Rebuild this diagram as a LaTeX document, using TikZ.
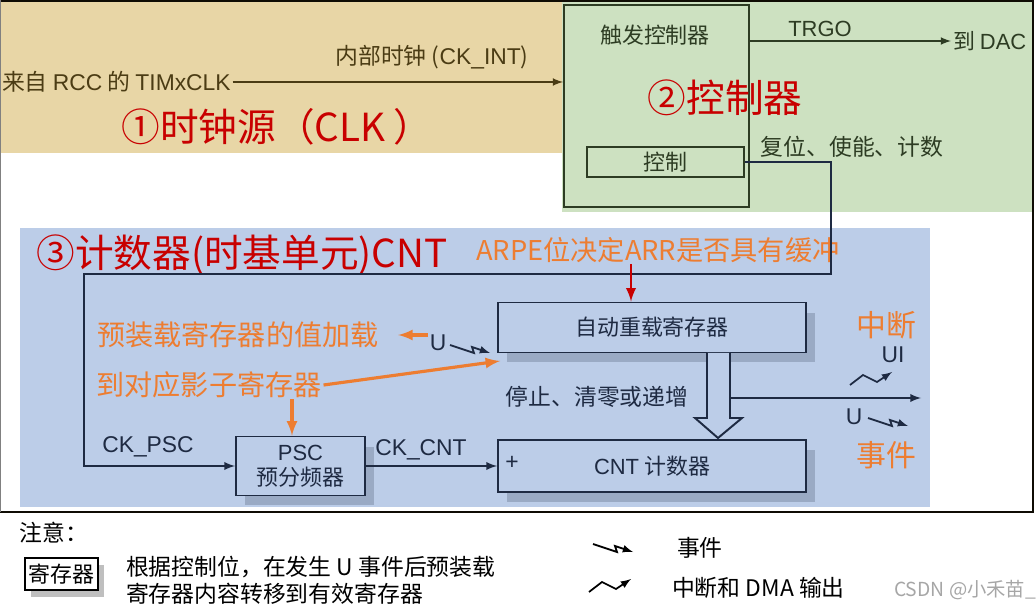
\documentclass[tikz,border=0pt]{standalone}
\usepackage{fontspec}
\setmainfont{Noto Sans CJK SC}
\newfontfamily\arial{Liberation Sans}
\usetikzlibrary{arrows,shadows}

\definecolor{tanbg}{RGB}{232,214,166}
\definecolor{greenbg}{RGB}{205,225,193}
\definecolor{bluebg}{RGB}{188,205,232}
\definecolor{shade}{RGB}{154,170,196}
\definecolor{navy}{RGB}{30,42,66}
\definecolor{olive}{RGB}{75,60,20}
\definecolor{forest}{RGB}{45,60,35}
\definecolor{headred}{RGB}{200,0,0}
\definecolor{noteorange}{RGB}{237,125,49}

\tikzset{
  txtan/.style={text=olive,inner sep=1pt,font=\fontsize{13}{15}\selectfont},
  txgreen/.style={text=forest,inner sep=1pt,font=\fontsize{12.5}{14}\selectfont},
  txblue/.style={text=navy,inner sep=1pt,font=\fontsize{12.5}{14}\selectfont},
  latinblue/.style={text=navy,inner sep=1pt,font=\arial\fontsize{13}{14}\selectfont},
  headline/.style={text=headred,inner sep=1pt,font=\fontsize{22}{24}\selectfont},
  orangenote/.style={text=noteorange,inner sep=1pt,font=\fontsize{16}{18}\selectfont},
  legendtxt/.style={text=black,inner sep=1pt,font=\fontsize{13}{15.5}\selectfont},
  reg/.style={draw=navy,line width=1.1pt,fill=bluebg,inner sep=0pt,
    drop shadow={fill=shade,opacity=1,shadow xshift=0.18cm,shadow yshift=-0.2cm}},
  orarrow/.style={-latex,noteorange,line width=1.8pt},
  evtpic/.pic={\draw[-latex,line width=1pt] (0,0) -- (24,8) -- (22,2) -- (40,8);},
  intpic/.pic={\draw[-latex,line width=1pt] (0,0) -- (13,-10) -- (27,-3) -- (42,-13);}
}

\begin{document}
\begin{tikzpicture}[x=0.02cm,y=-0.02cm]
  \useasboundingbox (0,0) rectangle (1036,608);

  % backgrounds
  \fill[tanbg] (0,0) rectangle (562,153);
  \fill[greenbg] (562,0) rectangle (1033,212);
  \fill[bluebg] (20,228) rectangle (930,507);
  \draw[line width=1.2pt,black!80!olive] (0,1) -- (1033,1) -- (1033,512) -- (0,512);
  \draw[gray,line width=0.8pt] (0.5,0) -- (0.5,512);

  % controller
  \node[draw=forest,line width=1.1pt,minimum width=3.7cm,minimum height=4.04cm,inner sep=0pt] (trig) at (656.5,106) {};
  \node[txgreen] (trigname) at (655,35) {触发控制器};
  \node[txgreen,draw=forest,line width=1.1pt,minimum width=3.14cm,minimum height=0.6cm,inner sep=0pt] (ctl) at (665.5,162) {控制};
  \node[txgreen,font=\arial\fontsize{12.5}{14}\selectfont] (trgo) at (820,29) {TRGO};
  \node[txgreen,anchor=west] (dac) at (951,41) {到 {\arial DAC}};
  \draw[-latex,forest,line width=1pt] (trig.east |- dac.west) -- (dac.west);
  \node[headline] (head2) at (725,98) {②控制器};
  \node[txgreen,font=\fontsize{13}{14}\selectfont] (rst) at (852,147) {复位、使能、计数};

  % clock source
  \node[txtan,anchor=west] (rcc) at (0,82) {来自 {\arial RCC} 的 {\arial TIMxCLK}};
  \draw[-latex,olive,line width=1pt] (rcc.east) -- (rcc.east -| trig.west);
  \node[txtan] (ckint) at (432,57) {内部时钟 ({\arial CK\_INT})};
  \node[headline] (head1) at (277,127) {①时钟源（CLK ）};

  % time base unit
  \node[headline] (head3) at (242,255) {③计数器(时基单元)CNT};
  \node[orangenote,font=\fontsize{15.5}{18}\selectfont] (arpe) at (658,250) {ARPE位决定ARR是否具有缓冲};
  \node[reg,txblue,minimum width=6.16cm,minimum height=1cm] (arr) at (652,327.5) {自动重载寄存器};
  \node[reg,txblue,minimum width=2.58cm,minimum height=1.18cm,align=center] (psc) at (300.5,466) {{\arial PSC}\\预分频器};
  \node[reg,txblue,minimum width=6.16cm,minimum height=1.04cm] (cnt) at (652,466) {{\arial CNT} 计数器};
  \node[latinblue] (plus) at (512,463) {+};

  \coordinate (ctlturn) at (831,274);
  \coordinate (leftturn) at (84,274);
  \draw[-latex,navy,line width=1.1pt] (ctl.east) -| (ctlturn) -- (leftturn) |- (psc.west);
  \node[latinblue] (ckpsc) at (148,447) {CK\_PSC};
  \draw[-latex,navy,line width=1.1pt] (psc.east) -- (cnt.west);
  \node[latinblue] (ckcnt) at (421,450) {CK\_CNT};

  \coordinate (arpetail) at (631,264);
  \draw[-latex,headred,line width=1.6pt] (arpetail) -- (arpetail |- arr.north);

  % preload notes
  \node[orangenote] (preload) at (238,335) {预装载寄存器的值加载};
  \node[orangenote] (shadowreg) at (209,385) {到对应影子寄存器};
  \node[latinblue] (u1) at (438,343) {U};
  \draw[orarrow,shorten >=10pt] (u1.west |- preload.east) -- (preload.east);
  \pic[navy] at (450,345) {evtpic};
  \coordinate (arrin) at (500,361);
  \draw[orarrow] (shadowreg.east) -- (arrin);
  \coordinate (pscin) at (292,399);
  \draw[orarrow] (pscin) -- (pscin |- psc.north);

  % update path
  \draw[navy,line width=1.1pt,fill=bluebg] (707,353) -- (707,418) -- (695,418) -- (718,438) -- (742,418) -- (730,418) -- (730,353);
  \node[txblue,font=\fontsize{13}{14}\selectfont] (stop) at (597,397) {停止、清零或递增};
  \coordinate (shaftout) at (730,398);
  \coordinate (evtout) at (921,398);
  \draw[-latex,navy,line width=1.1pt] (shaftout) -- (evtout);
  \node[orangenote,font=\fontsize{17}{18}\selectfont] (intr) at (886,325) {中断};
  \node[latinblue] (ui) at (893,355) {UI};
  \pic[navy] at (850,385) {intpic};
  \node[latinblue] (u2) at (854,417) {U};
  \pic[navy] at (868,418) {evtpic};
  \node[orangenote,font=\fontsize{17}{18}\selectfont] (evt) at (886,455) {事件};

  % legend
  \node[legendtxt] (note) at (54,533) {注意：};
  \node[legendtxt,draw=black,line width=1.1pt,fill=white,minimum width=1.46cm,minimum height=0.64cm,inner sep=0pt,
    font=\fontsize{12.5}{13}\selectfont,
    drop shadow={fill=black!25,opacity=1,shadow xshift=0.12cm,shadow yshift=-0.14cm}] (legreg) at (61.5,574) {寄存器};
  \node[legendtxt,anchor=west,align=left] (legtxt) at (124,580)
    {根据控制位，在发生 U 事件后预装载\\寄存器内容转移到有效寄存器};
  \pic[black] at (593,544) {evtpic};
  \node[legendtxt,anchor=west] (legevt) at (675,548) {事件};
  \pic[black] at (589,592) {intpic};
  \node[legendtxt,anchor=west] (legint) at (670,588) {中断和 DMA 输出};
  \node[black!35,anchor=west,inner sep=1pt,font=\fontsize{11}{12}\selectfont] (csdn) at (892,590) {CSDN @小禾苗\_};
\end{tikzpicture}
\end{document}
